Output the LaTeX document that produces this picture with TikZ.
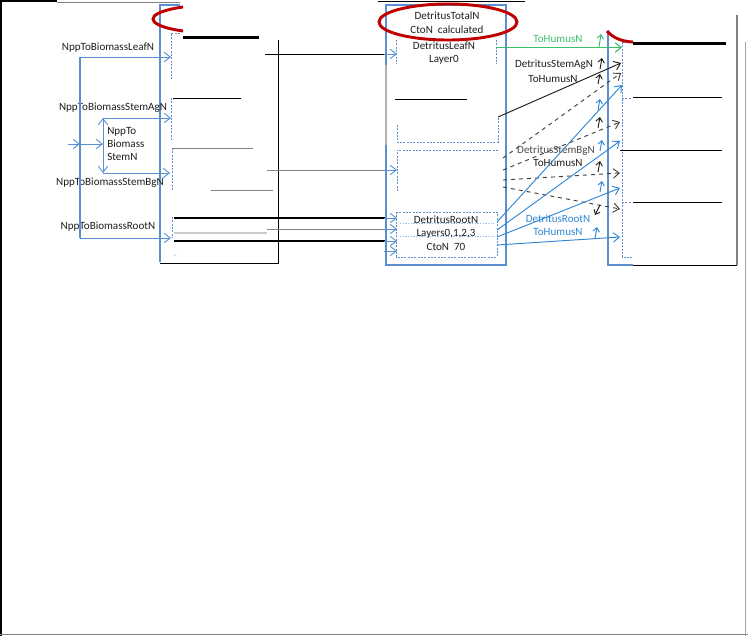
\documentclass[tikz,border=0pt]{standalone}
\usepackage{fontspec}
\setmainfont{Carlito}
\usetikzlibrary{arrows.meta}
\definecolor{boxblue}{HTML}{5B8FD0}
\definecolor{flowblue}{HTML}{2F86D4}
\definecolor{humusgreen}{HTML}{3CBF6A}
\definecolor{ringred}{HTML}{C00000}
\definecolor{inkgray}{HTML}{1E1E1E}
\begin{document}
\begin{tikzpicture}[x=0.75pt,y=-0.75pt,
  lbl/.style={font=\fontsize{8.3}{10}\selectfont, text=inkgray, inner sep=0pt, align=center},
  tip/.style={-{Straight Barb[length=4.5pt,width=7pt]}},
  smalltip/.style={-{Straight Barb[length=3pt,width=5pt]}},
  outline/.style={draw=boxblue, line width=0.8pt},
  dashbox/.style={draw=boxblue, dash pattern=on 1.5pt off 1pt, line width=0.6pt},
  dotrule/.style={draw=boxblue!60, dash pattern=on 1pt off 1pt, line width=0.5pt},
  ring/.style={draw=ringred, line width=2.2pt},
  rule/.style={draw=black, line width=0.75pt},
  heavy/.style={draw=black, line width=2.2pt},
  grayrule/.style={draw=gray, line width=0.75pt},
  blueflow/.style={draw=boxblue, line width=0.7pt, tip},
  darkflow/.style={draw=inkgray, line width=0.7pt, tip},
  dashflow/.style={draw=inkgray!85, line width=0.7pt, dashed, tip},
  rootflow/.style={draw=flowblue, line width=0.7pt, tip}]
\useasboundingbox (0,0) rectangle (748,636);

% ---------------- page frame ----------------
\draw[black, line width=1pt] (1,0) -- (1,636);
\draw[black, line width=1pt] (0,1) -- (57,1);
\draw[gray, line width=0.75pt] (57,2) -- (180,2);
\draw[gray, line width=1.2pt] (0,634.5) -- (748,634.5);
\draw[gray!70, line width=1pt] (745.5,42) -- (745.5,636);

% ---------------- biomass column ----------------
\draw[outline] (180,5) -- (160,5) -- (160,262);
\draw[rule] (160,263) -- (279,263);
\draw[rule] (278.5,40) -- (278.5,263);
\begin{scope}
  \clip (140,0) rectangle (183,40);
  \draw[ring] (215,19) ellipse [x radius=62, y radius=14];
\end{scope}
\draw[heavy] (183,37.5) -- (259,37.5);

% leaf compartment
\draw[dashbox] (180,33) -- (171,33) -- (171,79);
% stem above ground
\draw[dashbox] (171,98) -- (171,140);
\draw[rule] (173,98.5) -- (241,98.5);
% stem below ground
\draw[dashbox] (172,148) -- (172,191);
\draw[grayrule] (173,148) -- (253,148);
\draw[grayrule] (211,190.5) -- (273,190.5);
% roots
\draw[dashbox] (172,217) -- (172,238);
\fill[boxblue!40] (175,255) circle [radius=1];

% NPP inputs
\node[lbl] (leafin) at (108,48) {NppToBiomassLeafN};
\node[lbl] (stemagin) at (113,107.5) {NppToBiomassStemAgN};
\node[lbl] (stembgin) at (110,183) {NppToBiomassStemBgN};
\node[lbl] (rootin) at (108,227) {NppToBiomassRootN};
\node[lbl, align=left, anchor=west] (stemin) at (107,144) {NppTo\\Biomass\\StemN};

\coordinate (trunkTop) at (80,57);
\coordinate (trunkBot) at (80,238);
\coordinate (trunkMid) at (80,144);
\coordinate (splitMid) at (103,144);
\coordinate (splitTop) at (103,118);
\coordinate (splitBot) at (103,173);
\draw[blueflow] (trunkTop) -- (171,57);
\draw[outline] (trunkTop) -- (trunkBot);
\draw[blueflow] (trunkBot) -- (171,238);
\draw[blueflow] (68,144) -- (trunkMid);
\draw[blueflow] (trunkMid) -- (splitMid);
\draw[blueflow] (splitMid) -- (splitTop);
\draw[blueflow] (splitMid) -- (splitBot);
\draw[blueflow] (splitTop) -- (171,118);
\draw[blueflow] (splitBot) -- (170,173);

% transfers into detritus
\draw[rule] (265,54) -- (385,54);
\draw[blueflow] (384,54) -- (397,54);
\draw[grayrule] (267,170) -- (385,170);
\draw[blueflow] (384,170) -- (397,170);
\draw[black, line width=1pt] (174,218) -- (385,218);
\draw[gray!40, line width=1pt] (174,233) -- (267,233);
\draw[grayrule] (267,229) -- (385,229);
\draw[black, line width=1pt] (174,241) -- (385,241);
\draw[blueflow] (384,218) -- (397,218);
\draw[blueflow] (384,229) -- (397,229);
\draw[blueflow] (384,241) -- (397,241);
\draw[blueflow] (384,251) -- (397,251);

% ---------------- detritus column ----------------
\draw[black, line width=0.9pt] (378,1.5) -- (525,1.5);
\draw[outline] (386,5) rectangle (506,265);
\draw[gray!60, line width=1.2pt] (386,65) -- (386,145);
\node[lbl] (total) at (447,16) {DetritusTotalN};
\node[lbl] (totalcn) at (447,30) {CtoN\ \ calculated};
\draw[ring] (448,22) ellipse [x radius=69, y radius=18];

\draw[dashbox] (396,40) -- (396,64);
\draw[dashbox] (496,40) -- (496,64);
\node[lbl] (leafdet) at (444,46) {DetritusLeafN};
\node[lbl] (leaflay) at (444,60) {Layer0};

\draw[rule] (395,99) -- (467,99);
\draw[dashbox] (397,125) -- (397,142) -- (498,142) -- (498,117);
\draw[dashbox] (498,150) -- (397,150) -- (397,192);

\draw[dashbox] (396,212) rectangle (497,257);
\draw[dotrule] (400,223) -- (494,223);
\draw[dotrule] (400,236) -- (494,236);
\node[lbl] (rootdet) at (446,220) {DetritusRootN};
\node[lbl] (rootlay) at (446,234) {Layers0,1,2,3};
\node[lbl] (rootcn) at (446,246.5) {CtoN\ \ 70};

% ---------------- humus column ----------------
\draw[outline] (608,33) -- (608,265) -- (633,265);
\draw[dashbox] (632,42) -- (622,42) -- (622,257) -- (632,257);
\draw[dashbox] (622,98) -- (632,98);
\draw[dashbox] (622,202) -- (632,202);
\draw[ring] (607,31) .. controls (613,38) and (622,41.5) .. (633,42);
\draw[heavy] (633,43.5) -- (726,43.5);
\draw[rule] (633,97.5) -- (722,97.5);
\draw[rule] (620,150.5) -- (722,150.5);
\draw[rule] (633,202) -- (722,202);
\draw[rule] (633,265.5) -- (737,265.5);
\draw[gray, line width=0.9pt] (737,15) -- (737,265);

% ---------------- fluxes to humus ----------------
\draw[humusgreen, line width=0.8pt, tip] (497,47.5) -- (622,47.5);
\node[lbl, text=humusgreen] (greenlbl) at (558,39) {ToHumusN};
\draw[darkflow] (498,117) -- (621,63);
\node[lbl] (aglbl) at (554,65) {DetritusStemAgN};
\node[lbl] (aglbl2) at (553,79) {ToHumusN};
\node[lbl, text=inkgray!80] (bglbl) at (556,150.5) {DetritusStemBgN};
\node[lbl] (bglbl2) at (558,163) {ToHumusN};
\node[lbl, text=flowblue] (rtlbl) at (558,218.5) {DetritusRootN};
\node[lbl, text=flowblue] (rtlbl2) at (558,232) {ToHumusN};

\draw[dashflow] (503,158) -- (621,73);
\draw[dashflow] (503,170) -- (620,122);
\draw[dashflow] (503,180) -- (620,173);
\draw[dashflow] (503,187) -- (620,209);
\draw[rootflow] (497,222) -- (622,85);
\draw[rootflow] (497,230) -- (620,141);
\draw[rootflow] (497,237) -- (620,188);
\draw[rootflow] (497,245) -- (620,237);

% small upward marks along the humus boundary
\draw[humusgreen, line width=0.7pt, smalltip] (599,47) -- (601,34);
\draw[inkgray, line width=0.7pt, smalltip] (600,69) -- (602,58);
\draw[inkgray, line width=0.7pt, smalltip] (598,84) -- (600,74);
\draw[flowblue, line width=0.7pt, smalltip] (598,110) -- (600,99);
\draw[inkgray, line width=0.7pt, smalltip] (598,128) -- (600,117);
\draw[flowblue, line width=0.7pt, smalltip] (600,151) -- (602,140);
\draw[inkgray, line width=0.7pt, smalltip] (598,172) -- (600,161);
\draw[flowblue, line width=0.7pt, smalltip] (600,192) -- (602,181);
\draw[inkgray, line width=0.7pt, smalltip] (600,205) -- (595,215);
\draw[flowblue, line width=0.7pt, smalltip] (595,238) -- (597,227);
\end{tikzpicture}
\end{document}
